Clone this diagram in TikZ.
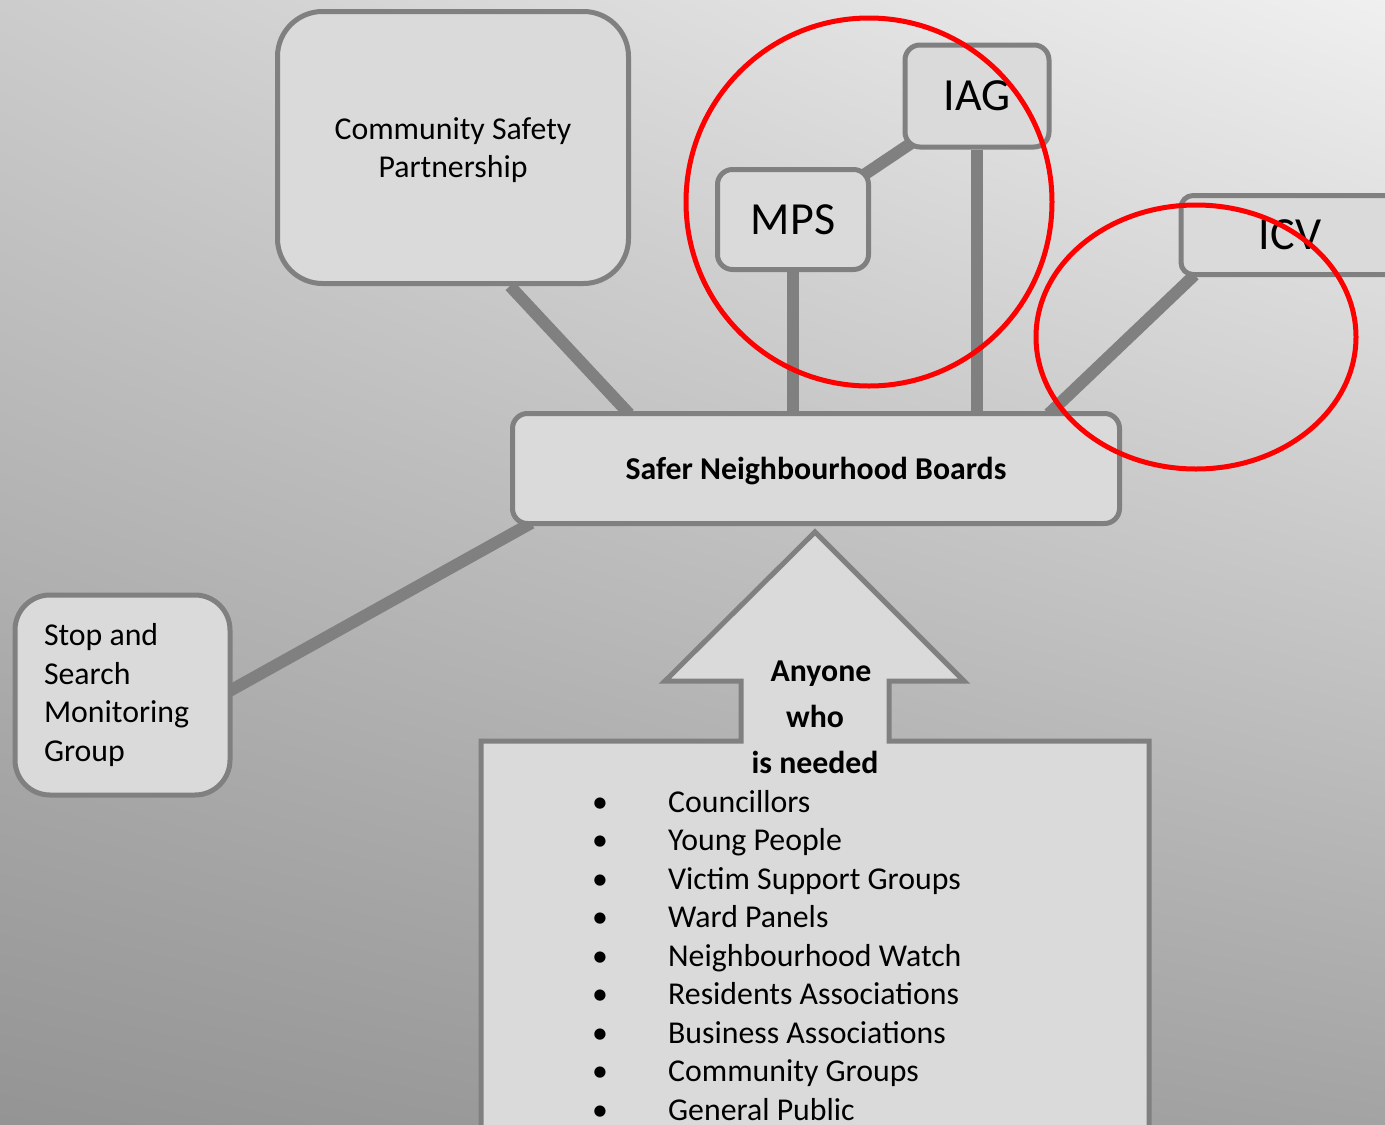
\documentclass[tikz,border=0pt]{standalone}
\usepackage{fontspec}
\setmainfont{Carlito}
\usetikzlibrary{calc,shadings}
\pgfdeclarelayer{paper}
\pgfdeclarelayer{links}
\pgfsetlayers{paper,links,main}
\definecolor{boxfill}{HTML}{DADADA}
\definecolor{boxline}{HTML}{808080}
\definecolor{ringred}{HTML}{FF0000}
\tikzset{
  board/.style={draw=boxline, line width=5pt, fill=boxfill, rounded corners=#1, inner sep=0pt, align=center},
  board/.default=15pt,
  link/.style={draw=boxline, line width=12pt},
  ring/.style={draw=ringred, line width=5pt},
  txt/.style={font=\fontsize{31.8}{37.5}\selectfont},
  bigtxt/.style={font=\fontsize{46}{50}\selectfont},
}
\begin{document}
\begin{tikzpicture}[x=1pt, y=-1pt]
\useasboundingbox (0,0) rectangle (1385,1125);
\clip (0,0) rectangle (1385,1125);
\begin{pgfonlayer}{paper}
\shade[upper left=black!20, upper right=black!6, lower left=black!42, lower right=black!36] (0,0) rectangle (1385,1125);
\end{pgfonlayer}

% boards
\node[board=45pt, txt, text depth=0pt, minimum width=351pt, minimum height=272pt] (csp) at (453,147.5) {Community Safety\\Partnership};
\node[board, bigtxt, minimum width=151pt, minimum height=100pt] (mps) at (793,219.5) {MPS};
\node[board, bigtxt, minimum width=144pt, minimum height=102pt] (iag) at (977,96) {IAG};
\node[board=12pt, bigtxt, minimum width=218pt, minimum height=79pt] (icv) at (1290,235) {ICV};
\node[board, txt, font=\fontsize{31.8}{37.5}\selectfont\bfseries, text depth=0pt, minimum width=607pt, minimum height=110pt] (snb) at (816,468.5) {Safer Neighbourhood Boards};
\node[board=35pt, font=\fontsize{31.8}{38.5}\selectfont, align=flush left, text width=157pt, inner xsep=29pt, minimum height=200pt] (stop) at (122.5,695) {Stop and\\Search\\Monitoring\\Group};

% arrow from below
\draw[draw=boxline, line width=5pt, fill=boxfill] (815,532) -- (964,681) -- (889,681) -- (889,741) -- (1149,741) -- (1149,1140)
  -- (481,1140) -- (481,741) -- (741,741) -- (741,681) -- (665,681) -- cycle;
\node[font=\fontsize{31.8}{46}\selectfont\bfseries, align=center] (needed) at (815,717.5) {\hspace*{12pt}Anyone\\who\\is needed};
\node[font=\fontsize{31.8}{38.5}\selectfont, anchor=west, align=flush left, inner sep=0pt] (members) at (592,955.5) {%
\makebox[76pt][l]{•}Councillors\\
\makebox[76pt][l]{•}Young People\\
\makebox[76pt][l]{•}Victim Support Groups\\
\makebox[76pt][l]{•}Ward Panels\\
\makebox[76pt][l]{•}Neighbourhood Watch\\
\makebox[76pt][l]{•}Residents Associations\\
\makebox[76pt][l]{•}Business Associations\\
\makebox[76pt][l]{•}Community Groups\\
\makebox[76pt][l]{•}General Public};

% connectors
\begin{pgfonlayer}{links}
\draw[link] ($(csp.south west)!0.66!(csp.south east)$) -- ($(snb.north west)!0.19!(snb.north east)+(3,3)$);
\draw[link] ($(mps)+(0,3)$) -- ($(iag)+(0,3)$);
\draw[link] (mps) -- (mps |- snb.center);
\draw[link] (iag) -- (iag |- snb.center);
\draw[link] ($(icv.south west)+(16,-2)$) -- ($(snb.north west)!0.885!(snb.north east)+(-3,3)$);
\draw[link] ($(stop.east)+(-3,-4)$) -- ($(snb.south west)!0.03!(snb.south east)+(3,-3)$);
\end{pgfonlayer}

% highlight rings
\draw[ring] (869,202) ellipse [x radius=183pt, y radius=184pt];
\draw[ring] (1196,337) ellipse [x radius=160pt, y radius=132pt];
\end{tikzpicture}
\end{document}
